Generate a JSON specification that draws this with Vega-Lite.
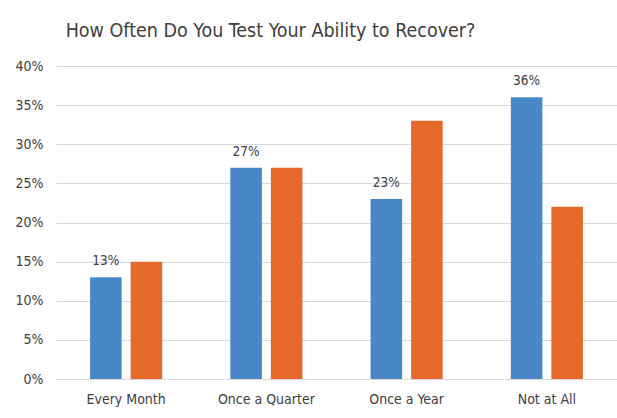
{
  "$schema": "https://vega.github.io/schema/vega-lite/v6.json",
  "autosize": {"type": "none"},
  "padding": {"left": 56, "top": 66, "right": 0, "bottom": 39},
  "width": 561,
  "height": 313,
  "background": "white",
  "title": {
    "text": "How Often Do You Test Your Ability to Recover?",
    "anchor": "middle",
    "dx": -66,
    "dy": 27,
    "baseline": "alphabetic",
    "offset": 30,
    "font": "DejaVu Sans Condensed",
    "fontSize": 19.5,
    "fontWeight": "normal",
    "color": "#404040"
  },
  "data": {
    "values": [
      {"category": "Every Month", "series": "A", "value": 0.13},
      {"category": "Every Month", "series": "B", "value": 0.15},
      {"category": "Once a Quarter", "series": "A", "value": 0.27},
      {"category": "Once a Quarter", "series": "B", "value": 0.27},
      {"category": "Once a Year", "series": "A", "value": 0.23},
      {"category": "Once a Year", "series": "B", "value": 0.33},
      {"category": "Not at All", "series": "A", "value": 0.36},
      {"category": "Not at All", "series": "B", "value": 0.22}
    ]
  },
  "config": {
    "view": {"stroke": null},
    "axis": {"labelFont": "DejaVu Sans Condensed", "labelColor": "#404040", "labelFontSize": 14}
  },
  "encoding": {
    "x": {
      "field": "category",
      "type": "nominal",
      "sort": null,
      "scale": {"paddingInner": 0.486, "paddingOuter": 0.243},
      "axis": {"title": null, "labelAngle": 0, "ticks": false, "domain": false, "labelPadding": 13}
    },
    "xOffset": {"field": "series", "type": "nominal", "scale": {"paddingInner": 0.222, "paddingOuter": 0}},
    "y": {
      "field": "value",
      "type": "quantitative",
      "scale": {"domain": [0, 0.4]},
      "axis": {
        "title": null,
        "format": ".0%",
        "values": [0, 0.05, 0.1, 0.15, 0.2, 0.25, 0.3, 0.35, 0.4],
        "domain": false,
        "ticks": false,
        "gridColor": "#d9d9d9",
        "gridWidth": 1,
        "labelPadding": 13
      }
    }
  },
  "layer": [
    {
      "mark": {"type": "bar"},
      "encoding": {
        "color": {
          "field": "series",
          "type": "nominal",
          "scale": {"domain": ["A", "B"], "range": ["#4a87c9", "#e5692a"]},
          "legend": null
        }
      }
    },
    {
      "transform": [{"filter": "datum.series == 'A'"}],
      "mark": {"type": "text", "baseline": "alphabetic", "dy": -12, "font": "DejaVu Sans Condensed", "fontSize": 13.5, "color": "#404040"},
      "encoding": {
        "text": {"field": "value", "type": "quantitative", "format": ".0%"}
      }
    }
  ]
}
